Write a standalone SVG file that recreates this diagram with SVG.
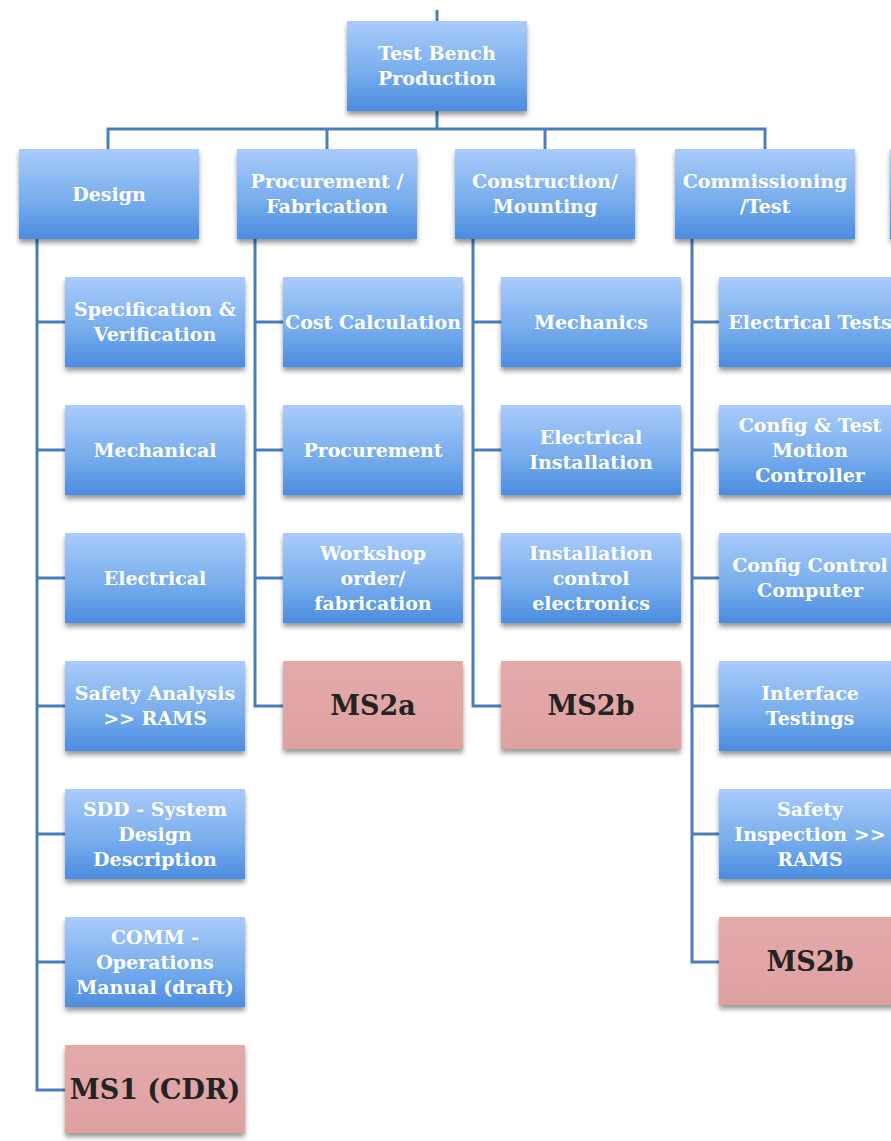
<svg xmlns="http://www.w3.org/2000/svg" width="891" height="1141" viewBox="0 0 891 1141">
<defs>
<linearGradient id="blue" x1="0" y1="0" x2="0" y2="1">
<stop offset="0" stop-color="#a9ccf9"/>
<stop offset="0.55" stop-color="#7aaeee"/>
<stop offset="1" stop-color="#4a8ddf"/>
</linearGradient>
<linearGradient id="pink" x1="0" y1="0" x2="0" y2="1">
<stop offset="0" stop-color="#e4aaa9"/>
<stop offset="1" stop-color="#dda1a0"/>
</linearGradient>
<filter id="sh" x="-10%" y="-10%" width="120%" height="130%">
<feDropShadow dx="0" dy="4" stdDeviation="2.5" flood-color="#000" flood-opacity="0.4"/>
</filter>
</defs>
<style>
.b{fill:url(#blue);filter:url(#sh)}
.p{fill:url(#pink);filter:url(#sh)}
.t{font-family:"DejaVu Serif","Liberation Serif",serif;font-weight:bold;font-size:19px;fill:#fff;text-anchor:middle}
.m{font-family:"DejaVu Serif","Liberation Serif",serif;font-weight:bold;font-size:27px;fill:#232323;text-anchor:middle}
.c{fill:none;stroke:#4a7ebb;stroke-width:3}
</style>
<rect width="891" height="1141" fill="#fff"/>
<g id="connectors" class="c">
<path d="M437 10 V129"/>
<path d="M108 149 V129 H765 V149"/>
<path d="M327 129 V149"/>
<path d="M545 129 V149"/>
<path d="M37 239 V1090 H65"/>
<path d="M37 322 H65 M37 450 H65 M37 578 H65 M37 706 H65 M37 834 H65 M37 962 H65"/>
<path d="M255 239 V706 H283"/>
<path d="M255 322 H283 M255 450 H283 M255 578 H283"/>
<path d="M473 239 V706 H501"/>
<path d="M473 322 H501 M473 450 H501 M473 578 H501"/>
<path d="M692 239 V962 H719"/>
<path d="M692 322 H719 M692 450 H719 M692 578 H719 M692 706 H719 M692 834 H719"/>
</g>
<g id="top"><rect class="b" x="347" y="21" width="180" height="90"/><text class="t" x="437" y="60">Test Bench</text><text class="t" x="437" y="85">Production</text></g>
<g id="design"><rect class="b" x="19" y="149" width="180" height="90"/><text class="t" x="109" y="201">Design</text></g>
<g id="procurement-fab"><rect class="b" x="237" y="149" width="180" height="90"/><text class="t" x="327" y="188">Procurement /</text><text class="t" x="327" y="213">Fabrication</text></g>
<g id="construction"><rect class="b" x="455" y="149" width="180" height="90"/><text class="t" x="545" y="188">Construction/</text><text class="t" x="545" y="213">Mounting</text></g>
<g id="commissioning"><rect class="b" x="675" y="149" width="180" height="90"/><text class="t" x="765" y="188">Commissioning</text><text class="t" x="765" y="213">/Test</text></g>
<g id="offscreen"><rect class="b" x="890" y="149" width="180" height="90"/></g>

<g id="d1"><rect class="b" x="65" y="277" width="180" height="90"/><text class="t" x="155" y="316">Specification &amp;</text><text class="t" x="155" y="341">Verification</text></g>
<g id="d2"><rect class="b" x="65" y="405" width="180" height="90"/><text class="t" x="155" y="457">Mechanical</text></g>
<g id="d3"><rect class="b" x="65" y="533" width="180" height="90"/><text class="t" x="155" y="585">Electrical</text></g>
<g id="d4"><rect class="b" x="65" y="661" width="180" height="90"/><text class="t" x="155" y="700">Safety Analysis</text><text class="t" x="155" y="725">&gt;&gt; RAMS</text></g>
<g id="d5"><rect class="b" x="65" y="789" width="180" height="90"/><text class="t" x="155" y="816">SDD - System</text><text class="t" x="155" y="841">Design</text><text class="t" x="155" y="866">Description</text></g>
<g id="d6"><rect class="b" x="65" y="917" width="180" height="90"/><text class="t" x="155" y="944">COMM -</text><text class="t" x="155" y="969">Operations</text><text class="t" x="155" y="994">Manual (draft)</text></g>
<g id="ms1"><rect class="p" x="65" y="1045" width="180" height="88"/><text class="m" x="155" y="1099">MS1 (CDR)</text></g>

<g id="p1"><rect class="b" x="283" y="277" width="180" height="90"/><text class="t" x="373" y="329">Cost Calculation</text></g>
<g id="p2"><rect class="b" x="283" y="405" width="180" height="90"/><text class="t" x="373" y="457">Procurement</text></g>
<g id="p3"><rect class="b" x="283" y="533" width="180" height="90"/><text class="t" x="373" y="560">Workshop</text><text class="t" x="373" y="585">order/</text><text class="t" x="373" y="610">fabrication</text></g>
<g id="ms2a"><rect class="p" x="283" y="661" width="180" height="88"/><text class="m" x="373" y="715">MS2a</text></g>

<g id="c1"><rect class="b" x="501" y="277" width="180" height="90"/><text class="t" x="591" y="329">Mechanics</text></g>
<g id="c2"><rect class="b" x="501" y="405" width="180" height="90"/><text class="t" x="591" y="444">Electrical</text><text class="t" x="591" y="469">Installation</text></g>
<g id="c3"><rect class="b" x="501" y="533" width="180" height="90"/><text class="t" x="591" y="560">Installation</text><text class="t" x="591" y="585">control</text><text class="t" x="591" y="610">electronics</text></g>
<g id="ms2b-1"><rect class="p" x="501" y="661" width="180" height="88"/><text class="m" x="591" y="715">MS2b</text></g>

<g id="t1"><rect class="b" x="719" y="277" width="180" height="90"/><text class="t" x="810" y="329">Electrical Tests</text></g>
<g id="t2"><rect class="b" x="719" y="405" width="180" height="90"/><text class="t" x="810" y="432">Config &amp; Test</text><text class="t" x="810" y="457">Motion</text><text class="t" x="810" y="482">Controller</text></g>
<g id="t3"><rect class="b" x="719" y="533" width="180" height="90"/><text class="t" x="810" y="572">Config Control</text><text class="t" x="810" y="597">Computer</text></g>
<g id="t4"><rect class="b" x="719" y="661" width="180" height="90"/><text class="t" x="810" y="700">Interface</text><text class="t" x="810" y="725">Testings</text></g>
<g id="t5"><rect class="b" x="719" y="789" width="180" height="90"/><text class="t" x="810" y="816">Safety</text><text class="t" x="810" y="841">Inspection &gt;&gt;</text><text class="t" x="810" y="866">RAMS</text></g>
<g id="ms2b-2"><rect class="p" x="719" y="917" width="180" height="88"/><text class="m" x="810" y="971">MS2b</text></g>
</svg>
